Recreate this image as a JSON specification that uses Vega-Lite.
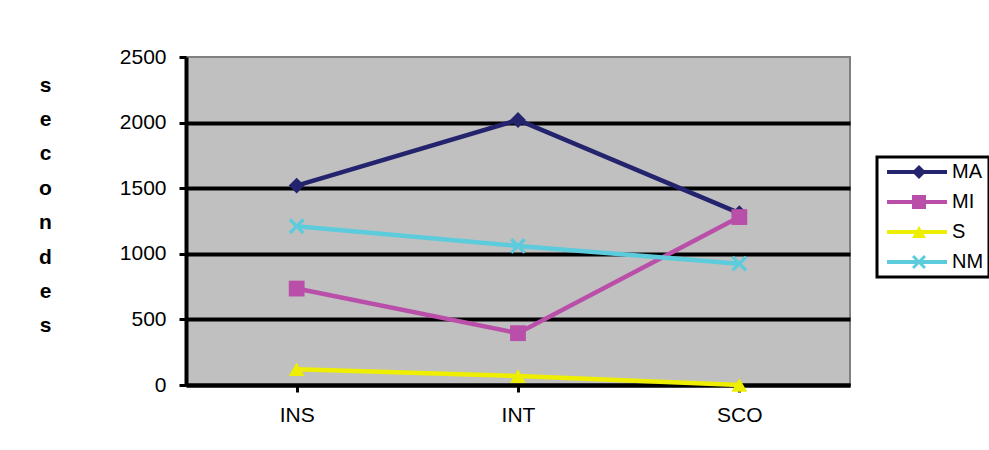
{
  "$schema": "https://vega.github.io/schema/vega-lite/v6.json",
  "width": 664,
  "height": 328,
  "autosize": "none",
  "padding": {"left": 186, "top": 57, "right": 139, "bottom": 65},
  "background": "white",
  "config": {
    "view": {"fill": "#C0C0C0", "stroke": "#808080", "strokeWidth": 2},
    "font": "Liberation Sans"
  },
  "data": {
    "values": [
      {"task": "INS", "series": "MA", "seconds": 1520},
      {"task": "INT", "series": "MA", "seconds": 2020},
      {"task": "SCO", "series": "MA", "seconds": 1310},
      {"task": "INS", "series": "MI", "seconds": 735},
      {"task": "INT", "series": "MI", "seconds": 395},
      {"task": "SCO", "series": "MI", "seconds": 1280},
      {"task": "INS", "series": "S", "seconds": 120},
      {"task": "INT", "series": "S", "seconds": 68},
      {"task": "SCO", "series": "S", "seconds": 0},
      {"task": "INS", "series": "NM", "seconds": 1210},
      {"task": "INT", "series": "NM", "seconds": 1060},
      {"task": "SCO", "series": "NM", "seconds": 925}
    ]
  },
  "encoding": {
    "x": {
      "field": "task",
      "type": "nominal",
      "sort": ["INS", "INT", "SCO"],
      "scale": {"paddingInner": 0, "paddingOuter": 0},
      "axis": {
        "title": null,
        "labelAngle": 0,
        "bandPosition": 0,
        "grid": false,
        "domainColor": "black",
        "domainWidth": 4,
        "tickColor": "black",
        "tickWidth": 3,
        "tickSize": 7,
        "labelFontSize": 21,
        "labelColor": "black",
        "labelPadding": 12,
        "labelFont": "Liberation Sans"
      }
    },
    "y": {
      "field": "seconds",
      "type": "quantitative",
      "scale": {"domain": [0, 2500], "nice": false},
      "axis": {
        "title": ["s", "e", "c", "o", "n", "d", "e", "s"],
        "titleAngle": 0,
        "titleX": -141,
        "titleY": 34,
        "titleBaseline": "alphabetic",
        "titleAlign": "center",
        "titleFontSize": 21,
        "titleFontWeight": "bold",
        "titleLineHeight": 34.4,
        "titleColor": "black",
        "titleFont": "Liberation Sans",
        "values": [0, 500, 1000, 1500, 2000, 2500],
        "format": "d",
        "grid": true,
        "gridColor": {"condition": {"test": "datum.value == 2500", "value": "transparent"}, "value": "black"},
        "gridWidth": 4,
        "gridOpacity": 1,
        "domainColor": "black",
        "domainWidth": 4,
        "tickColor": "black",
        "tickWidth": 3,
        "tickSize": 7,
        "labelFontSize": 21,
        "labelColor": "black",
        "labelPadding": 13,
        "labelFont": "Liberation Sans"
      }
    }
  },
  "layer": [
    {
      "mark": {"type": "line", "strokeWidth": 4.5},
      "encoding": {
        "color": {
          "field": "series",
          "type": "nominal",
          "sort": ["MA", "MI", "S", "NM"],
          "scale": {"range": ["#24246E", "#BA4FA9", "#EEEE00", "#5CCBDC"]},
          "legend": {
            "orient": "none",
            "legendX": 691,
            "legendY": 100,
            "title": null,
            "strokeColor": "black",
            "padding": 5,
            "labelFontSize": 20,
            "labelFont": "Liberation Sans",
            "labelColor": "black",
            "symbolType": "M-0.71,0H7.86",
            "symbolSize": 196,
            "symbolStrokeWidth": 4,
            "labelOffset": 50,
            "rowPadding": 10,
            "zindex": 0,
            "encode": {"legend": {"update": {"strokeWidth": {"value": 3}}}}
          }
        }
      }
    },
    {
      "mark": {"type": "point", "filled": true, "opacity": 1, "size": 250},
      "encoding": {
        "fill": {
          "field": "series",
          "type": "nominal",
          "scale": {
            "domain": ["MA", "MI", "S", "NM"],
            "range": ["#24246E", "#BA4FA9", "#EEEE00", "#5CCBDC"]
          },
          "legend": {
            "orient": "none",
            "legendX": 691,
            "legendY": 100,
            "title": null,
            "padding": 5,
            "labelFontSize": 20,
            "labelFont": "Liberation Sans",
            "labelOpacity": 0,
            "symbolSize": 196,
            "symbolStrokeWidth": 0,
            "symbolOffset": 27,
            "labelOffset": 50,
            "rowPadding": 10,
            "zindex": 1
          }
        },
        "shape": {
          "field": "series",
          "type": "nominal",
          "scale": {
            "domain": ["MA", "MI", "S", "NM"],
            "range": ["diamond", "square", "triangle-up", "M-1,-0.7L-0.7,-1L0,-0.3L0.7,-1L1,-0.7L0.3,0L1,0.7L0.7,1L0,0.3L-0.7,1L-1,0.7L-0.3,0Z"]
          }
        }
      }
    }
  ]
}
